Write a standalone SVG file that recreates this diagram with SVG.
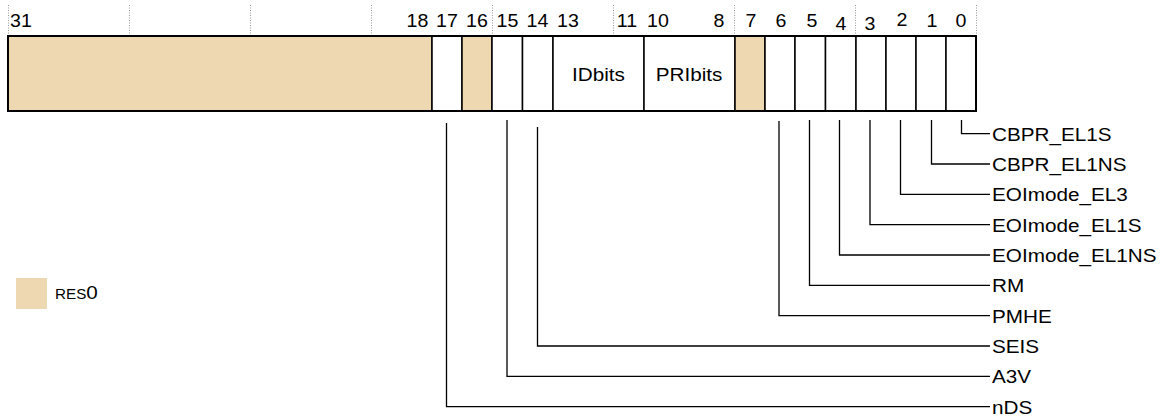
<svg xmlns="http://www.w3.org/2000/svg" width="1171" height="417" viewBox="0 0 1171 417">
<style>
text{font-family:"Liberation Sans",Arial,sans-serif;fill:#000}
.num{font-size:18px;text-anchor:middle}
.lbl{font-size:19px}
.fld{font-size:19px;text-anchor:middle}
.res{fill:#EED8B1;stroke:#000;stroke-width:1.5}
.cell{fill:#fff;stroke:#000;stroke-width:1.5}
.tick{stroke:#999;stroke-width:1;stroke-dasharray:1 1.5;fill:none}
.conn{fill:none;stroke:#000;stroke-width:1.3}
</style>
<g id="ticks">
<path class="tick" d="M8.5 5V34M129.5 5V34M250.5 5V34M371.5 5V34M492.5 5V34M613.5 5V34M734.5 5V34M855.5 5V34M976.5 5V34"/>
</g>
<g id="bitnumbers">
<text class="num" text-anchor="start" style="text-anchor:start" transform="translate(10,27) scale(1.09,1)">31</text>
<text class="num" transform="translate(417.5,27) scale(1.09,1)">18</text>
<text class="num" transform="translate(447,27) scale(1.09,1)">17</text>
<text class="num" transform="translate(477,27) scale(1.09,1)">16</text>
<text class="num" transform="translate(507.5,27) scale(1.09,1)">15</text>
<text class="num" transform="translate(537.5,27) scale(1.09,1)">14</text>
<text class="num" transform="translate(568,27) scale(1.09,1)">13</text>
<text class="num" transform="translate(627,27) scale(1.09,1)">11</text>
<text class="num" transform="translate(658,27) scale(1.09,1)">10</text>
<text class="num" transform="translate(719,27) scale(1.09,1)">8</text>
<text class="num" transform="translate(751,27) scale(1.09,1)">7</text>
<text class="num" transform="translate(781,27) scale(1.09,1)">6</text>
<text class="num" transform="translate(812,27) scale(1.09,1)">5</text>
<text class="num" transform="translate(841,29.5) scale(1.09,1)">4</text>
<text class="num" transform="translate(870,29.5) scale(1.09,1)">3</text>
<text class="num" transform="translate(902,25.5) scale(1.09,1)">2</text>
<text class="num" transform="translate(932,27) scale(1.09,1)">1</text>
<text class="num" transform="translate(961,27) scale(1.09,1)">0</text>
</g>
<g id="register">
<g id="f31_18"><rect class="res" x="8" y="36" width="424" height="75"/></g>
<g id="f17"><rect class="cell" x="432" y="36" width="30" height="75"/></g>
<g id="f16"><rect class="res" x="462" y="36" width="30" height="75"/></g>
<g id="f15"><rect class="cell" x="492" y="36" width="30.5" height="75"/></g>
<g id="f14"><rect class="cell" x="522.5" y="36" width="30.5" height="75"/></g>
<g id="f13_11"><rect class="cell" x="553" y="36" width="91" height="75"/><text class="fld" transform="translate(598.5,81) scale(1.09,1)">IDbits</text></g>
<g id="f10_8"><rect class="cell" x="644" y="36" width="91" height="75"/><text class="fld" transform="translate(689,81) scale(1.09,1)">PRIbits</text></g>
<g id="f7"><rect class="res" x="735" y="36" width="30" height="75"/></g>
<g id="f6"><rect class="cell" x="765" y="36" width="30" height="75"/></g>
<g id="f5"><rect class="cell" x="795" y="36" width="30.5" height="75"/></g>
<g id="f4"><rect class="cell" x="825.5" y="36" width="30.5" height="75"/></g>
<g id="f3"><rect class="cell" x="856" y="36" width="30" height="75"/></g>
<g id="f2"><rect class="cell" x="886" y="36" width="30" height="75"/></g>
<g id="f1"><rect class="cell" x="916" y="36" width="30" height="75"/></g>
<g id="f0"><rect class="cell" x="946" y="36" width="30" height="75"/></g>
<rect x="8" y="36" width="968" height="75" fill="none" stroke="#000" stroke-width="2"/>
</g>
<g id="connectors">
<path class="conn" d="M961.5 120V133.7H990"/>
<path class="conn" d="M931.5 120V164H990"/>
<path class="conn" d="M900.5 120V194.4H990"/>
<path class="conn" d="M870 120V224.7H990"/>
<path class="conn" d="M839.5 120V255H990"/>
<path class="conn" d="M809.5 120V285.4H990"/>
<path class="conn" d="M779 121V315.7H990"/>
<path class="conn" d="M537.5 127V346H990"/>
<path class="conn" d="M507 120V376.4H990"/>
<path class="conn" d="M446.5 123V406.7H990"/>
</g>
<g id="labels">
<g id="l_cbpr_el1s"><text class="lbl" transform="translate(992,140.5) scale(1.09,1)">CBPR_EL1S</text></g>
<g id="l_cbpr_el1ns"><text class="lbl" transform="translate(992,170.8) scale(1.09,1)">CBPR_EL1NS</text></g>
<g id="l_eoimode_el3"><text class="lbl" transform="translate(992,201.2) scale(1.09,1)">EOImode_EL3</text></g>
<g id="l_eoimode_el1s"><text class="lbl" transform="translate(992,231.5) scale(1.09,1)">EOImode_EL1S</text></g>
<g id="l_eoimode_el1ns"><text class="lbl" transform="translate(992,261.8) scale(1.09,1)">EOImode_EL1NS</text></g>
<g id="l_rm"><text class="lbl" transform="translate(992,292.2) scale(1.09,1)">RM</text></g>
<g id="l_pmhe"><text class="lbl" transform="translate(992,322.5) scale(1.09,1)">PMHE</text></g>
<g id="l_seis"><text class="lbl" transform="translate(992,352.8) scale(1.09,1)">SEIS</text></g>
<g id="l_a3v"><text class="lbl" transform="translate(992,383.2) scale(1.09,1)">A3V</text></g>
<g id="l_nds"><text class="lbl" transform="translate(992,413.5) scale(1.09,1)">nDS</text></g>
</g>
<g id="legend">
<rect x="16" y="278" width="31" height="31" fill="#EED8B1"/>
<text transform="translate(55,299) scale(1.09,1)"><tspan font-size="14">RES</tspan><tspan font-size="19">0</tspan></text>
</g>
</svg>
